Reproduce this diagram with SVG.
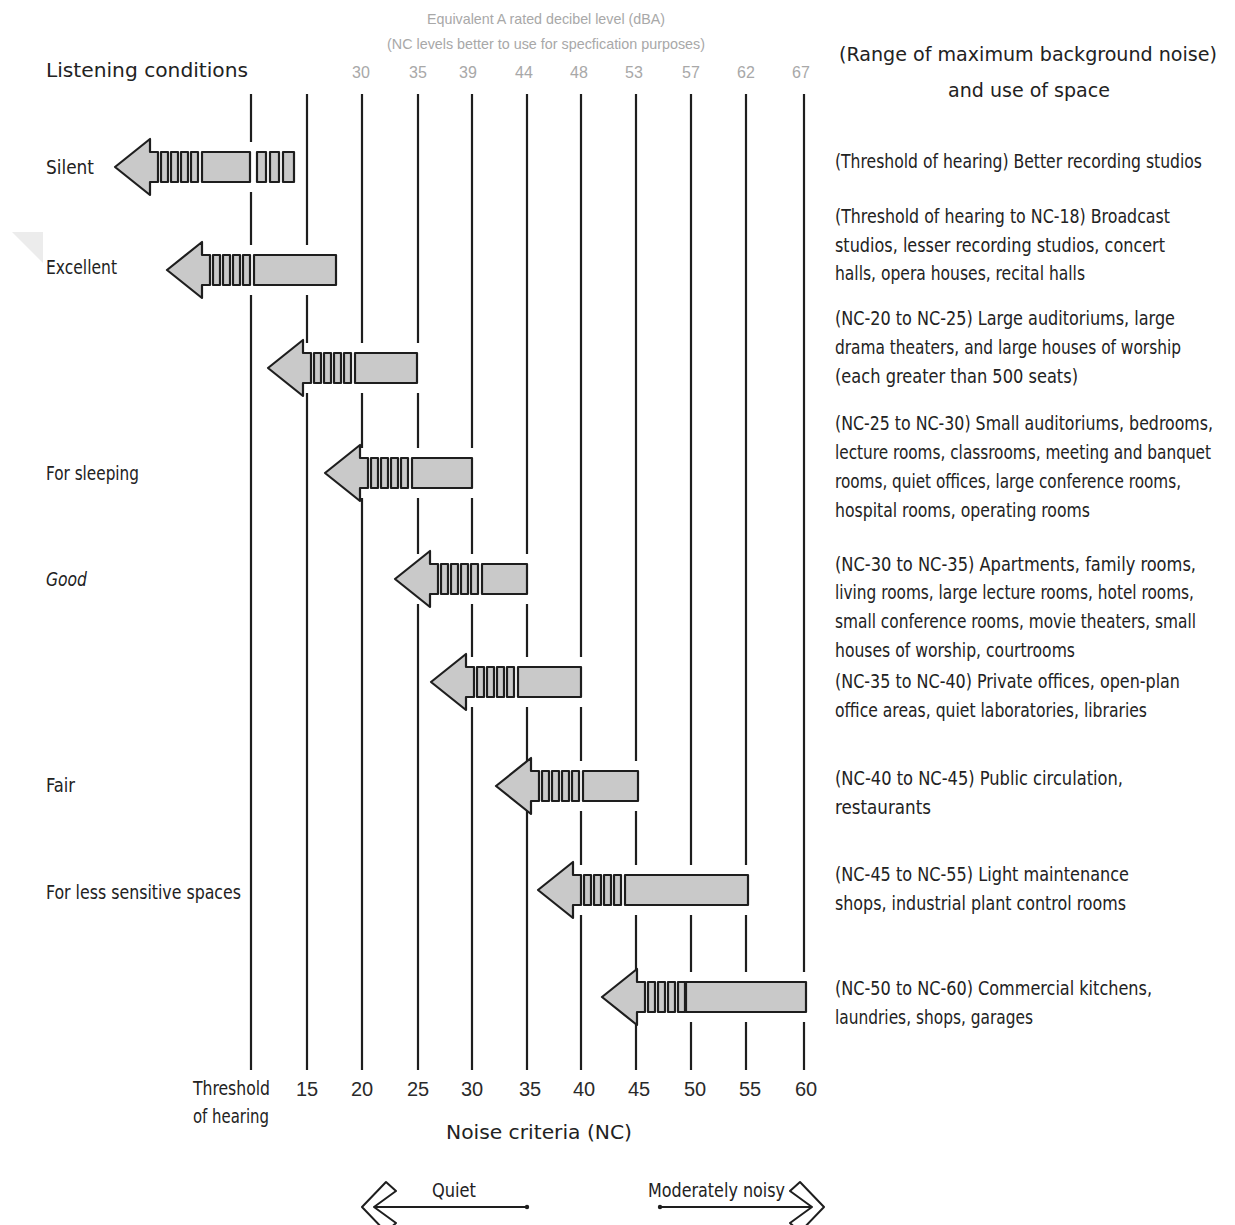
<svg xmlns="http://www.w3.org/2000/svg" width="1235" height="1225" viewBox="0 0 1235 1225">
<style>
.t{font-family:"DejaVu Sans Condensed","Liberation Sans",Arial,sans-serif;fill:#222222;font-size:20px}
.g{font-family:"Liberation Sans",Arial,sans-serif;fill:#a8a8a8}
.n{font-family:"Liberation Sans",Arial,sans-serif;fill:#2a2a2a;font-size:20px;text-anchor:middle}
.vl{stroke:#1e1e1e;stroke-width:2.2;fill:none}
.ar{fill:#c9c9c9;stroke:#1e1e1e;stroke-width:2.2;stroke-linejoin:round}
.bg{fill:#ffffff}
</style>
<defs>
<g id="ah">
<path class="ar" d="M0,0 L35,-28 L35,-15 L43,-15 L43,15 L35,15 L35,28 Z"/>
<rect class="ar" x="46" y="-15" width="7" height="30"/>
<rect class="ar" x="56" y="-15" width="7" height="30"/>
<rect class="ar" x="66" y="-15" width="7" height="30"/>
<rect class="ar" x="76" y="-15" width="7" height="30"/>
</g>
</defs>
<rect width="1235" height="1225" fill="#ffffff"/>
<polygon points="12,232 43,232 43,263" fill="#ececec"/>

<g id="header">
<text class="t" x="46" y="77" font-size="25" textLength="202" lengthAdjust="spacingAndGlyphs">Listening conditions</text>
<text class="g" x="546" y="24" font-size="15" text-anchor="middle" textLength="238" lengthAdjust="spacingAndGlyphs">Equivalent A rated decibel level (dBA)</text>
<text class="g" x="546" y="49" font-size="15" text-anchor="middle" textLength="318" lengthAdjust="spacingAndGlyphs">(NC levels better to use for specfication purposes)</text>
<g class="g" font-size="16" text-anchor="middle">
<text x="361" y="78">30</text><text x="418" y="78">35</text><text x="468" y="78">39</text>
<text x="524" y="78">44</text><text x="579" y="78">48</text><text x="634" y="78">53</text>
<text x="691" y="78">57</text><text x="746" y="78">62</text><text x="801" y="78">67</text>
</g>
<text class="t" transform="translate(1028,61) scale(0.8,1)" font-size="27" text-anchor="middle" textLength="472.5" lengthAdjust="spacingAndGlyphs">(Range of maximum background noise)</text>
<text class="t" transform="translate(1029,97) scale(0.8,1)" font-size="27" text-anchor="middle" textLength="202.5" lengthAdjust="spacingAndGlyphs">and use of space</text>
</g>

<g id="gridlines">
<line class="vl" x1="251" y1="94" x2="251" y2="1070"/>
<line class="vl" x1="307" y1="94" x2="307" y2="1070"/>
<line class="vl" x1="362" y1="94" x2="362" y2="1070"/>
<line class="vl" x1="418" y1="94" x2="418" y2="1070"/>
<line class="vl" x1="472" y1="94" x2="472" y2="1070"/>
<line class="vl" x1="527" y1="94" x2="527" y2="1070"/>
<line class="vl" x1="581" y1="94" x2="581" y2="1070"/>
<line class="vl" x1="636" y1="94" x2="636" y2="1070"/>
<line class="vl" x1="691" y1="94" x2="691" y2="1070"/>
<line class="vl" x1="746" y1="94" x2="746" y2="1070"/>
<line class="vl" x1="804" y1="94" x2="804" y2="1070"/>
</g>

<g id="arrow-silent">
<rect class="bg" x="115" y="142" width="184" height="50"/>
<use href="#ah" transform="translate(115,167)"/>
<rect class="ar" x="202" y="152" width="48" height="30"/>
<rect class="ar" x="257" y="152" width="9" height="30"/>
<rect class="ar" x="270" y="152" width="9" height="30"/>
<rect class="ar" x="283" y="152" width="11" height="30"/>
</g>
<g id="arrow-excellent">
<rect class="bg" x="167" y="245" width="172" height="50"/>
<use href="#ah" transform="translate(167,270)"/>
<rect class="ar" x="254" y="255" width="82" height="30"/>
</g>
<g id="arrow-3">
<rect class="bg" x="268" y="343" width="152" height="50"/>
<use href="#ah" transform="translate(268,368)"/>
<rect class="ar" x="355" y="353" width="62" height="30"/>
</g>
<g id="arrow-sleeping">
<rect class="bg" x="325" y="448" width="150" height="50"/>
<use href="#ah" transform="translate(325,473)"/>
<rect class="ar" x="412" y="458" width="60" height="30"/>
</g>
<g id="arrow-good">
<rect class="bg" x="395" y="554" width="135" height="50"/>
<use href="#ah" transform="translate(395,579)"/>
<rect class="ar" x="482" y="564" width="45" height="30"/>
</g>
<g id="arrow-6">
<rect class="bg" x="431" y="657" width="153" height="50"/>
<use href="#ah" transform="translate(431,682)"/>
<rect class="ar" x="518" y="667" width="63" height="30"/>
</g>
<g id="arrow-fair">
<rect class="bg" x="496" y="761" width="145" height="50"/>
<use href="#ah" transform="translate(496,786)"/>
<rect class="ar" x="583" y="771" width="55" height="30"/>
</g>
<g id="arrow-less">
<rect class="bg" x="538" y="865" width="213" height="50"/>
<use href="#ah" transform="translate(538,890)"/>
<rect class="ar" x="625" y="875" width="123" height="30"/>
</g>
<g id="arrow-9">
<rect class="bg" x="602" y="972" width="208" height="50"/>
<use href="#ah" transform="translate(602,997)"/>
<rect class="ar" x="686" y="982" width="120" height="30"/>
</g>

<g id="left-labels">
<text class="t" x="46" y="174" textLength="48" lengthAdjust="spacingAndGlyphs">Silent</text>
<text class="t" x="46" y="274" textLength="71" lengthAdjust="spacingAndGlyphs">Excellent</text>
<text class="t" x="46" y="480" textLength="93" lengthAdjust="spacingAndGlyphs">For sleeping</text>
<text class="t" x="46" y="586" font-style="italic" textLength="41" lengthAdjust="spacingAndGlyphs">Good</text>
<text class="t" x="46" y="792" textLength="29" lengthAdjust="spacingAndGlyphs">Fair</text>
<text class="t" x="46" y="899" textLength="195" lengthAdjust="spacingAndGlyphs">For less sensitive spaces</text>
</g>

<g id="right-labels">
<text class="t" transform="translate(835,168) scale(0.8,1)" textLength="458.75" lengthAdjust="spacingAndGlyphs">(Threshold of hearing) Better recording studios</text>
<text class="t" transform="translate(835,223) scale(0.8,1)" textLength="418.75" lengthAdjust="spacingAndGlyphs">(Threshold of hearing to NC-18) Broadcast</text>
<text class="t" transform="translate(835,252) scale(0.8,1)" textLength="412.5" lengthAdjust="spacingAndGlyphs">studios, lesser recording studios, concert</text>
<text class="t" transform="translate(835,280) scale(0.8,1)" textLength="312.5" lengthAdjust="spacingAndGlyphs">halls, opera houses, recital halls</text>
<text class="t" transform="translate(835,325) scale(0.8,1)" textLength="425" lengthAdjust="spacingAndGlyphs">(NC-20 to NC-25) Large auditoriums, large</text>
<text class="t" transform="translate(835,354) scale(0.8,1)" textLength="432.5" lengthAdjust="spacingAndGlyphs">drama theaters, and large houses of worship</text>
<text class="t" transform="translate(835,383) scale(0.8,1)" textLength="303.75" lengthAdjust="spacingAndGlyphs">(each greater than 500 seats)</text>
<text class="t" transform="translate(835,430) scale(0.8,1)" textLength="472.5" lengthAdjust="spacingAndGlyphs">(NC-25 to NC-30) Small auditoriums, bedrooms,</text>
<text class="t" transform="translate(835,459) scale(0.8,1)" textLength="470" lengthAdjust="spacingAndGlyphs">lecture rooms, classrooms, meeting and banquet</text>
<text class="t" transform="translate(835,488) scale(0.8,1)" textLength="432.5" lengthAdjust="spacingAndGlyphs">rooms, quiet offices, large conference rooms,</text>
<text class="t" transform="translate(835,517) scale(0.8,1)" textLength="318.75" lengthAdjust="spacingAndGlyphs">hospital rooms, operating rooms</text>
<text class="t" transform="translate(835,571) scale(0.8,1)" textLength="451.25" lengthAdjust="spacingAndGlyphs">(NC-30 to NC-35) Apartments, family rooms,</text>
<text class="t" transform="translate(835,599) scale(0.8,1)" textLength="448.75" lengthAdjust="spacingAndGlyphs">living rooms, large lecture rooms, hotel rooms,</text>
<text class="t" transform="translate(835,628) scale(0.8,1)" textLength="451.25" lengthAdjust="spacingAndGlyphs">small conference rooms, movie theaters, small</text>
<text class="t" transform="translate(835,657) scale(0.8,1)" textLength="300" lengthAdjust="spacingAndGlyphs">houses of worship, courtrooms</text>
<text class="t" transform="translate(835,688) scale(0.8,1)" textLength="431.25" lengthAdjust="spacingAndGlyphs">(NC-35 to NC-40) Private offices, open-plan</text>
<text class="t" transform="translate(835,717) scale(0.8,1)" textLength="390" lengthAdjust="spacingAndGlyphs">office areas, quiet laboratories, libraries</text>
<text class="t" transform="translate(835,785) scale(0.8,1)" textLength="360" lengthAdjust="spacingAndGlyphs">(NC-40 to NC-45) Public circulation,</text>
<text class="t" transform="translate(835,814) scale(0.8,1)" textLength="120" lengthAdjust="spacingAndGlyphs">restaurants</text>
<text class="t" transform="translate(835,881) scale(0.8,1)" textLength="367.5" lengthAdjust="spacingAndGlyphs">(NC-45 to NC-55) Light maintenance</text>
<text class="t" transform="translate(835,910) scale(0.8,1)" textLength="363.75" lengthAdjust="spacingAndGlyphs">shops, industrial plant control rooms</text>
<text class="t" transform="translate(835,995) scale(0.8,1)" textLength="396.25" lengthAdjust="spacingAndGlyphs">(NC-50 to NC-60) Commercial kitchens,</text>
<text class="t" transform="translate(835,1024) scale(0.8,1)" textLength="247.5" lengthAdjust="spacingAndGlyphs">laundries, shops, garages</text>
</g>

<g id="axis-labels">
<text class="t" x="193" y="1095" textLength="77" lengthAdjust="spacingAndGlyphs">Threshold</text>
<text class="t" x="193" y="1123" textLength="76" lengthAdjust="spacingAndGlyphs">of hearing</text>
<text class="n" x="307" y="1096">15</text><text class="n" x="362" y="1096">20</text>
<text class="n" x="418" y="1096">25</text><text class="n" x="472" y="1096">30</text>
<text class="n" x="530" y="1096">35</text><text class="n" x="584" y="1096">40</text>
<text class="n" x="639" y="1096">45</text><text class="n" x="695" y="1096">50</text>
<text class="n" x="750" y="1096">55</text><text class="n" x="806" y="1096">60</text>
<text class="t" x="539" y="1139" font-size="25" text-anchor="middle" textLength="186" lengthAdjust="spacingAndGlyphs">Noise criteria (NC)</text>
</g>

<g id="quiet-noisy">
<text class="t" x="432" y="1197" textLength="44" lengthAdjust="spacingAndGlyphs">Quiet</text>
<text class="t" x="648" y="1197" textLength="137" lengthAdjust="spacingAndGlyphs">Moderately noisy</text>
<line x1="368" y1="1207" x2="527" y2="1207" stroke="#1e1e1e" stroke-width="2"/>
<circle cx="527" cy="1207" r="2.2" fill="#1e1e1e"/>
<polygon points="386,1182 396,1191 374,1207 396,1223 386,1232 362,1207" fill="#ffffff" stroke="#1e1e1e" stroke-width="2" stroke-linejoin="round"/>
<line x1="660" y1="1207" x2="818" y2="1207" stroke="#1e1e1e" stroke-width="2"/>
<circle cx="660" cy="1207" r="2.2" fill="#1e1e1e"/>
<polygon points="800,1182 790,1191 812,1207 790,1223 800,1232 824,1207" fill="#ffffff" stroke="#1e1e1e" stroke-width="2" stroke-linejoin="round"/>
</g>
</svg>
